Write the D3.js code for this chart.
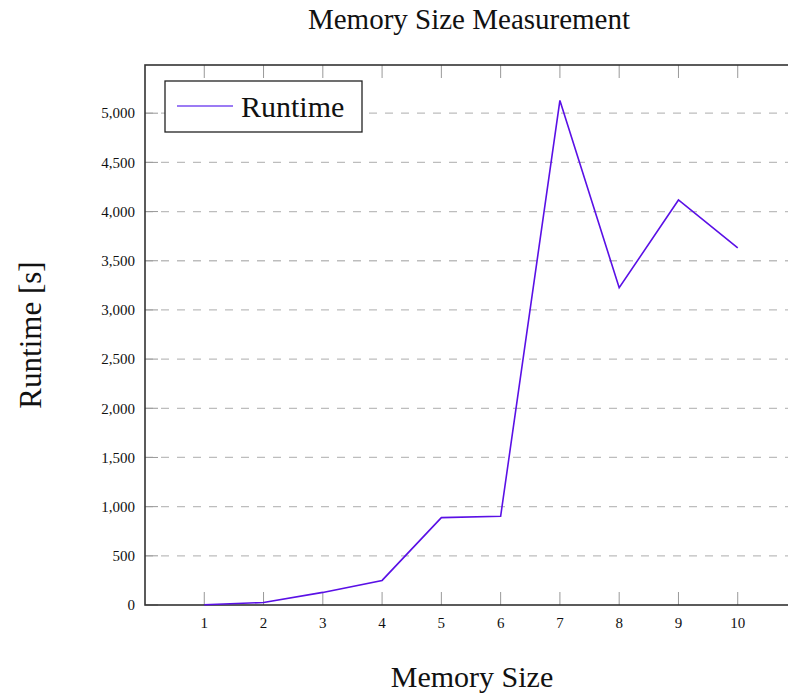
<!DOCTYPE html>
<html>
<head>
<meta charset="utf-8">
<script src="https://cdn.jsdelivr.net/npm/d3@7"></script>
<style>
  body { margin: 0; background: #fff; }
  text { font-family: "Liberation Serif", "DejaVu Serif", serif; fill: #111; }
</style>
</head>
<body>
<div id="chart"></div>
<script>
var memorySizes = [1, 2, 3, 4, 5, 6, 7, 8, 9, 10];
var runtimes = [3, 25, 128, 250, 888, 902, 5130, 3225, 4118, 3630];
var yTicks = [0, 500, 1000, 1500, 2000, 2500, 3000, 3500, 4000, 4500, 5000];

var W = 788, H = 695;
var margin = { top: 65, left: 145, bottom: 90 };
var plotRight = 797;
var height = H - margin.top - margin.bottom;

var svg = d3.select("#chart").append("svg")
  .attr("width", W).attr("height", H);

var x = d3.scaleLinear().domain([0, 11]).range([margin.left, plotRight]);
var y = d3.scaleLinear().domain([0, 5490]).range([margin.top + height, margin.top]);

var lineColor = "#5a10e6";

// dashed grid
svg.append("g").selectAll("line")
  .data(yTicks.slice(1))
  .enter().append("line")
  .attr("x1", margin.left).attr("x2", plotRight)
  .attr("y1", d => y(d)).attr("y2", d => y(d))
  .attr("stroke", "#bdbdbd").attr("stroke-width", 1.3)
  .attr("stroke-dasharray", "8,8");

// inner ticks
svg.append("g").selectAll("line")
  .data(yTicks)
  .enter().append("line")
  .attr("x1", margin.left).attr("x2", margin.left + 13)
  .attr("y1", d => y(d)).attr("y2", d => y(d))
  .attr("stroke", "#999").attr("stroke-width", 1);

svg.append("g").selectAll("line")
  .data(memorySizes)
  .enter().append("line")
  .attr("x1", d => x(d)).attr("x2", d => x(d))
  .attr("y1", y(0)).attr("y2", y(0) - 13)
  .attr("stroke", "#999").attr("stroke-width", 1);

svg.append("g").selectAll("line")
  .data(memorySizes)
  .enter().append("line")
  .attr("x1", d => x(d)).attr("x2", d => x(d))
  .attr("y1", margin.top).attr("y2", margin.top + 13)
  .attr("stroke", "#999").attr("stroke-width", 1);

// frame
svg.append("rect")
  .attr("x", margin.left).attr("y", margin.top)
  .attr("width", plotRight - margin.left).attr("height", height)
  .attr("fill", "none").attr("stroke", "#333").attr("stroke-width", 1.6);

// tick labels
svg.append("g").selectAll("text")
  .data(yTicks)
  .enter().append("text")
  .attr("x", margin.left - 10).attr("y", d => y(d))
  .attr("dy", "0.35em").attr("text-anchor", "end")
  .style("font-size", "15px")
  .text(d => d3.format(",")(d));

svg.append("g").selectAll("text")
  .data(memorySizes)
  .enter().append("text")
  .attr("x", d => x(d)).attr("y", y(0) + 23)
  .attr("text-anchor", "middle")
  .style("font-size", "15px")
  .text(d => d);

// data line
var line = d3.line()
  .x((d, i) => x(memorySizes[i]))
  .y(d => y(d));

svg.append("path")
  .datum(runtimes)
  .attr("d", line)
  .attr("fill", "none")
  .attr("stroke", lineColor)
  .attr("stroke-width", 1.6);

// legend
var lg = svg.append("g");
lg.append("rect")
  .attr("x", 165).attr("y", 81).attr("width", 197).attr("height", 51)
  .attr("fill", "#fff").attr("stroke", "#222").attr("stroke-width", 1.3);
lg.append("line")
  .attr("x1", 177).attr("x2", 233).attr("y1", 106).attr("y2", 106)
  .attr("stroke", "#7a4ff0").attr("stroke-width", 1.6);
lg.append("text")
  .attr("x", 241).attr("y", 106).attr("dy", "0.35em")
  .style("font-size", "30px")
  .text("Runtime");

// titles
svg.append("text")
  .attr("x", 469).attr("y", 29)
  .attr("text-anchor", "middle")
  .style("font-size", "29px")
  .text("Memory Size Measurement");

svg.append("text")
  .attr("x", 472).attr("y", 687)
  .attr("text-anchor", "middle")
  .style("font-size", "30px")
  .text("Memory Size");

svg.append("text")
  .attr("transform", "translate(41," + 335 + ") rotate(-90)")
  .attr("text-anchor", "middle")
  .style("font-size", "31px")
  .text("Runtime [s]");
</script>
</body>
</html>
